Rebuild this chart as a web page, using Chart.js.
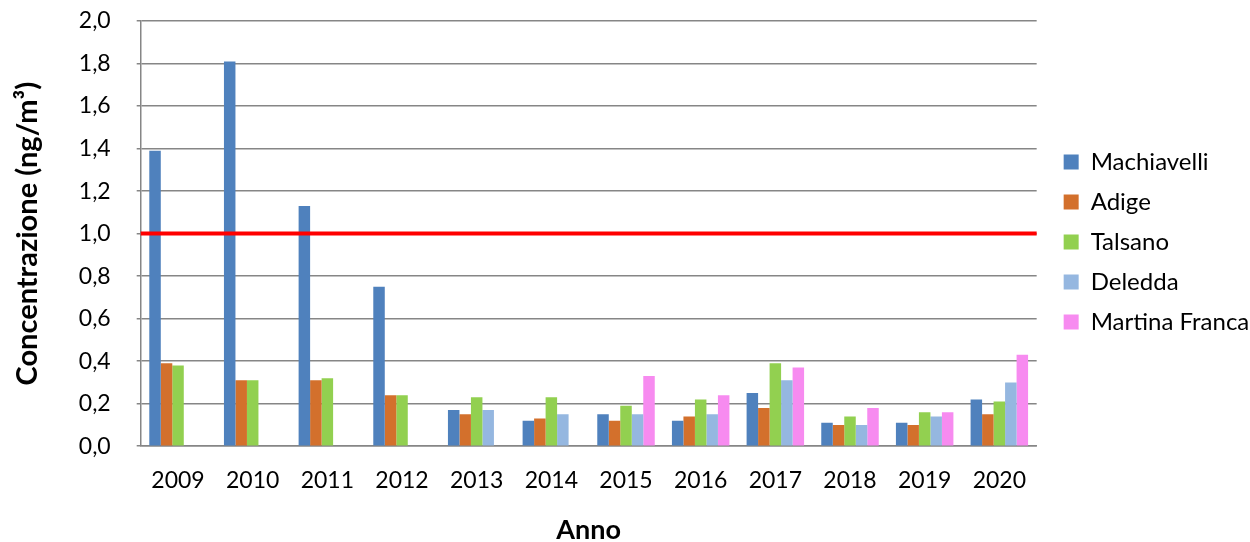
<!DOCTYPE html>
<html>
<head>
<meta charset="utf-8">
<script src="https://cdn.jsdelivr.net/npm/chart.js@4/dist/chart.umd.min.js"></script>
<style>
  html, body { margin: 0; padding: 0; background: #fff; }
  #wrap { width: 1250px; height: 542px; }
</style>
</head>
<body>
<div id="wrap"><canvas id="chart" width="1250" height="542"></canvas></div>
<script>
// anni
const years = ["2009", "2010", "2011", "2012", "2013", "2014", "2015", "2016", "2017", "2018", "2019", "2020"];

// concentrazioni per stazione (ng/m3)
const machiavelli = [1.39, 1.81, 1.13, 0.75, 0.17, 0.12, 0.15, 0.12, 0.25, 0.11, 0.11, 0.22];
const adige = [0.39, 0.31, 0.31, 0.24, 0.15, 0.13, 0.12, 0.14, 0.18, 0.10, 0.10, 0.15];
const talsano = [0.38, 0.31, 0.32, 0.24, 0.23, 0.23, 0.19, 0.22, 0.39, 0.14, 0.16, 0.21];
const deledda = [null, null, null, null, 0.17, 0.15, 0.15, 0.15, 0.31, 0.10, 0.14, 0.30];
const martinaFranca = [null, null, null, null, null, null, 0.33, 0.24, 0.37, 0.18, 0.16, 0.43];

// valore limite
const limite = 1.0;

const FONT = "Lato, 'Open Sans', sans-serif";

// linea rossa del valore limite, disegnata con la scala y
const limitLine = {
  id: "limitLine",
  afterDatasetsDraw(chart) {
    const { ctx, chartArea, scales } = chart;
    const y = scales.y.getPixelForValue(limite);
    ctx.save();
    ctx.strokeStyle = "#FF0000";
    ctx.lineWidth = 4;
    ctx.beginPath();
    ctx.moveTo(chartArea.left, y);
    ctx.lineTo(chartArea.right, y);
    ctx.stroke();
    ctx.restore();
  }
};

function ds(label, data, color) {
  return {
    label,
    data,
    backgroundColor: color,
    borderWidth: 0,
    barPercentage: 1,
    categoryPercentage: 0.77
  };
}

new Chart(document.getElementById("chart"), {
  type: "bar",
  data: {
    labels: years,
    datasets: [
      ds("Machiavelli", machiavelli, "#4F81BD"),
      ds("Adige", adige, "#D3702C"),
      ds("Talsano", talsano, "#92D050"),
      ds("Deledda", deledda, "#95B7E0"),
      ds("Martina Franca", martinaFranca, "#F78BF0")
    ]
  },
  options: {
    responsive: false,
    animation: false,
    layout: { padding: { top: 0, right: -6, left: 6, bottom: 0 } },
    plugins: {
      tooltip: { enabled: false },
      legend: {
        position: "right",
        align: "start",
        title: {
          display: true,
          text: " ",
          font: { size: 10 },
          padding: { top: 122, bottom: 0 }
        },
        labels: {
          boxWidth: 15,
          boxHeight: 15,
          padding: 16,
          color: "#000",
          font: { family: FONT, size: 24 }
        }
      }
    },
    scales: {
      x: {
        grid: { display: false, drawTicks: false },
        border: { color: "#868686", width: 1.5 },
        ticks: { color: "#000", padding: 21, font: { family: FONT, size: 23 } },
        title: {
          display: true,
          text: "Anno",
          color: "#000",
          padding: { top: 6 },
          font: { family: FONT, size: 27, weight: "bold", lineHeight: 0.6 }
        }
      },
      y: {
        min: 0,
        max: 2,
        ticks: {
          stepSize: 0.2,
          color: "#000",
          padding: 26,
          font: { family: FONT, size: 23 },
          callback: v => v.toFixed(1).replace(".", ",")
        },
        grid: { color: "#868686", lineWidth: 1.5, drawTicks: true, tickLength: 4 },
        border: { color: "#868686", width: 1.5 },
        title: {
          display: true,
          text: "Concentrazione (ng/m³)",
          color: "#000",
          padding: { bottom: 8 },
          font: { family: FONT, size: 29, weight: "bold" }
        },
        // il padding dei tick non deve spostare in basso l'area del grafico
        afterFit: s => { s.paddingTop = 21; s.paddingBottom = 13; }
      },
      // spazio vuoto tra area del grafico e legenda
      gap: {
        type: "linear",
        position: "right",
        display: true,
        grid: { display: false, drawTicks: false },
        border: { display: false },
        ticks: { display: false, padding: 0 },
        afterFit: s => { s.width = 11; }
      }
    }
  },
  plugins: [limitLine]
});
</script>
</body>
</html>
